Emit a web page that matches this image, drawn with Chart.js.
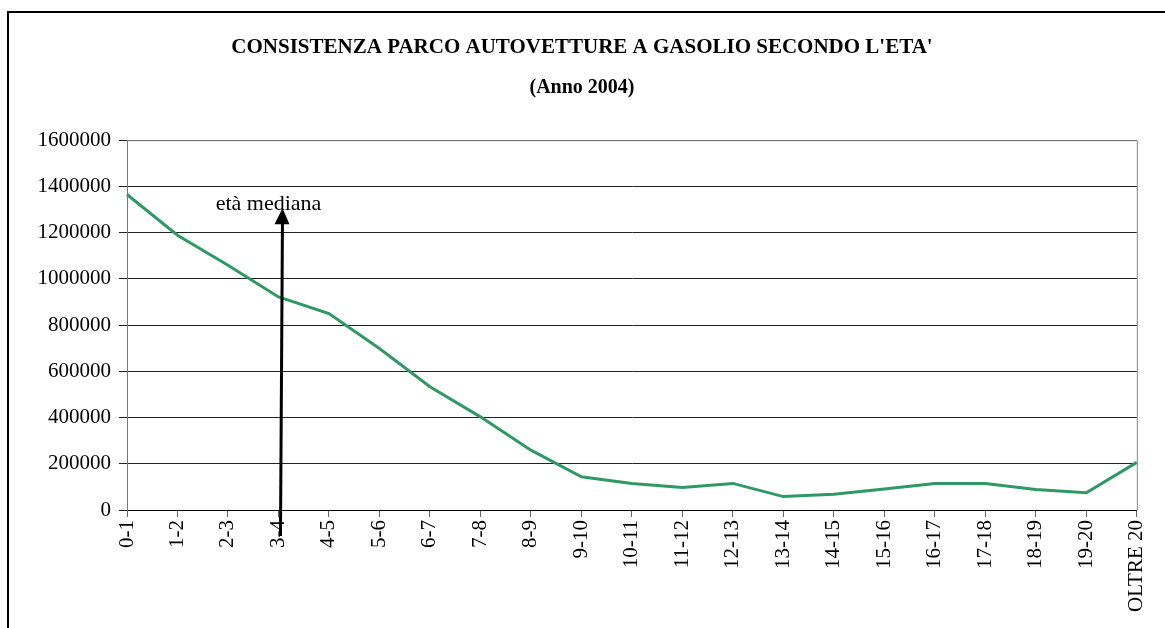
<!DOCTYPE html>
<html>
<head>
<meta charset="utf-8">
<script src="https://cdn.jsdelivr.net/npm/chart.js@4/dist/chart.umd.min.js"></script>
<style>
  html, body { margin: 0; padding: 0; background: #fff; }
  #wrap { position: relative; width: 1165px; height: 628px; overflow: hidden; }
  #frame { position: absolute; left: 7px; top: 11px; width: 1200px; height: 640px; border: 2px solid #000; box-sizing: border-box; }
  #c { position: absolute; left: 0; top: 0; }
</style>
</head>
<body>
<div id="wrap">
  <div id="frame"></div>
  <canvas id="c" width="1165" height="628"></canvas>
</div>
<script>
// classi di età (anni)
var categories = ["0-1", "1-2", "2-3", "3-4", "4-5", "5-6", "6-7", "7-8", "8-9", "9-10",
  "10-11", "11-12", "12-13", "13-14", "14-15", "15-16", "16-17", "17-18", "18-19", "19-20", "OLTRE 20"];
// numero autovetture a gasolio
var vetture = [1365000, 1189000, 1059000, 922000, 850000, 699000, 533000, 403000, 259000, 144000,
  115000, 97000, 115000, 58000, 68000, 91000, 115000, 115000, 89000, 75000, 206000];
var yTicks = [0, 200000, 400000, 600000, 800000, 1000000, 1200000, 1400000, 1600000];

// freccia "età mediana"
var medianaIdx = 3;
var medianaTop = 1306000;

var serif = "'Liberation Serif', 'Times New Roman', serif";

var extras = {
  id: "extras",
  afterDatasetsDraw: function (chart) {
    var ctx = chart.ctx, a = chart.chartArea;
    var xs = chart.scales.x, ys = chart.scales.y;
    ctx.save();
    // bordo area grafico (alto e destra)
    ctx.strokeStyle = "#888";
    ctx.lineWidth = 1;
    ctx.beginPath();
    ctx.moveTo(a.left, a.top + 0.5);
    ctx.lineTo(a.right + 0.5, a.top + 0.5);
    ctx.lineTo(a.right + 0.5, a.bottom);
    ctx.stroke();

    // freccia
    var x = xs.getPixelForValue(medianaIdx) + 3;
    var top = ys.getPixelForValue(medianaTop);
    var bottom = ys.bottom + 26;
    ctx.strokeStyle = "#000";
    ctx.fillStyle = "#000";
    ctx.lineWidth = 3;
    ctx.beginPath();
    ctx.moveTo(x - 1, bottom);
    ctx.lineTo(x + 1, top + 12);
    ctx.stroke();
    ctx.beginPath();
    ctx.moveTo(x + 1, top);
    ctx.lineTo(x - 7, top + 16);
    ctx.lineTo(x + 8, top + 16);
    ctx.closePath();
    ctx.fill();

    ctx.font = "22px " + serif;
    ctx.textAlign = "center";
    ctx.textBaseline = "alphabetic";
    ctx.fillText("età mediana", x - 13, top + 2);
    ctx.restore();
  }
};

new Chart(document.getElementById("c"), {
  type: "line",
  data: {
    labels: categories,
    datasets: [{
      data: vetture,
      borderColor: "#2f9966",
      borderWidth: 3,
      pointRadius: 0,
      tension: 0,
      fill: false
    }]
  },
  options: {
    responsive: false,
    animation: false,
    layout: { padding: { top: 10, left: 27, right: 28, bottom: 0 } },
    plugins: {
      legend: { display: false },
      tooltip: { enabled: false },
      title: {
        display: true,
        text: "CONSISTENZA PARCO AUTOVETTURE A GASOLIO SECONDO L'ETA'",
        color: "#000",
        font: { family: serif, size: 21, weight: "bold", lineHeight: 1.2 },
        padding: { top: 25, bottom: 0 }
      },
      subtitle: {
        display: true,
        text: "(Anno 2004)",
        color: "#000",
        font: { family: serif, size: 20, weight: "bold", lineHeight: 1.2 },
        padding: { top: 16, bottom: 40 }
      }
    },
    scales: {
      x: {
        offset: false,
        afterFit: function (s) { s.height = 118; },
        grid: { display: true, drawOnChartArea: false, color: "#666", tickLength: 7 },
        border: { display: true, color: "#000" },
        ticks: {
          color: "#000",
          font: { family: serif, size: 21 },
          maxRotation: 90, minRotation: 90,
          autoSkip: false,
          padding: 3
        }
      },
      y: {
        min: 0, max: 1600000,
        afterFit: function (s) { s.width = 100; },
        afterBuildTicks: function (s) { s.ticks = yTicks.map(function (v) { return { value: v }; }); },
        grid: { color: "#222", lineWidth: 1, tickLength: 8 },
        border: { display: true, color: "#777" },
        ticks: {
          color: "#000",
          font: { family: serif, size: 21 },
          padding: 8,
          callback: function (v) { return String(v); }
        }
      }
    }
  },
  plugins: [extras]
});
</script>
</body>
</html>
